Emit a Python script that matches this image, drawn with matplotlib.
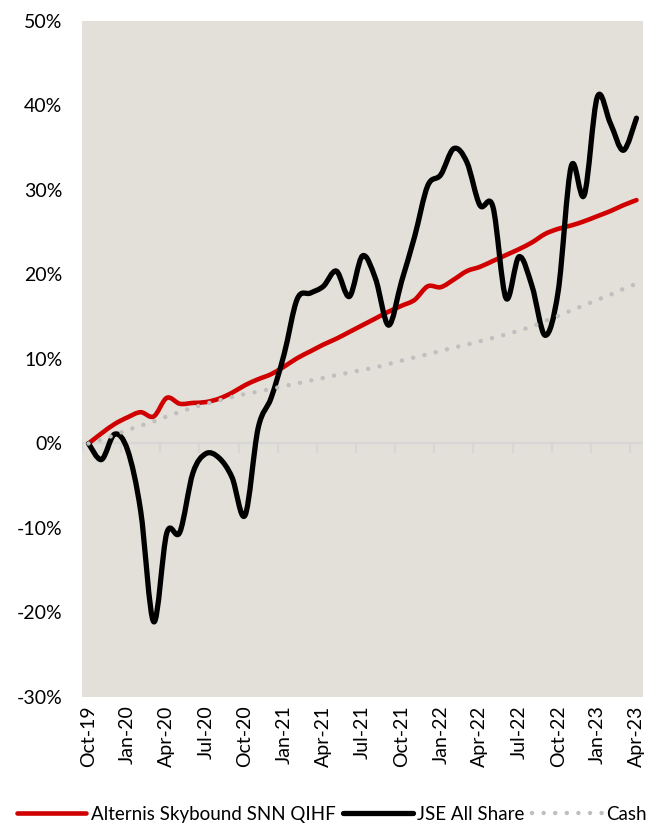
import matplotlib
matplotlib.use("Agg")
import matplotlib.pyplot as plt
from matplotlib.path import Path
from matplotlib.patches import PathPatch
from matplotlib.lines import Line2D
from matplotlib.ticker import FuncFormatter

plt.rcParams['font.family'] = ['Lato', 'DejaVu Sans']

# monthly values, Oct-19 .. Apr-23 (cumulative return, %)
months = ["Oct-19", "Nov-19", "Dec-19", "Jan-20", "Feb-20", "Mar-20", "Apr-20", "May-20", "Jun-20",
          "Jul-20", "Aug-20", "Sep-20", "Oct-20", "Nov-20", "Dec-20", "Jan-21", "Feb-21", "Mar-21",
          "Apr-21", "May-21", "Jun-21", "Jul-21", "Aug-21", "Sep-21", "Oct-21", "Nov-21", "Dec-21",
          "Jan-22", "Feb-22", "Mar-22", "Apr-22", "May-22", "Jun-22", "Jul-22", "Aug-22", "Sep-22",
          "Oct-22", "Nov-22", "Dec-22", "Jan-23", "Feb-23", "Mar-23", "Apr-23"]

alternis = [0.0, 1.2, 2.3, 3.1, 3.7, 3.2, 5.4, 4.7, 4.8, 4.9, 5.3, 6.0, 6.9, 7.6, 8.2,
            9.1, 10.1, 10.9, 11.7, 12.4, 13.2, 14.0, 14.8, 15.6, 16.3, 17.0, 18.6, 18.5,
            19.4, 20.4, 20.9, 21.6, 22.3, 23.0, 23.8, 24.8, 25.4, 25.8, 26.3, 26.9, 27.5,
            28.2, 28.8]

jse = [0.0, -1.9, 1.1, -0.8, -8.0, -21.1, -10.6, -10.5, -3.5, -1.2, -1.7, -4.0, -8.5, 1.8,
       5.4, 10.6, 17.1, 17.8, 18.6, 20.4, 17.4, 22.2, 19.5, 14.0, 19.2, 24.5, 30.5, 31.8,
       34.9, 33.3, 28.2, 28.0, 17.2, 22.1, 18.6, 12.8, 18.0, 32.8, 29.4, 41.0, 37.9, 34.7,
       38.5]

cash = [0.0, 0.45, 1.0, 1.6, 2.1, 2.6, 3.2, 3.75, 4.25, 4.7, 5.1, 5.5, 5.85, 6.15, 6.45,
        6.8, 7.1, 7.45, 7.75, 8.1, 8.4, 8.7, 9.0, 9.4, 9.8, 10.2, 10.55, 10.95, 11.35,
        11.7, 12.1, 12.5, 12.9, 13.35, 13.85, 14.5, 15.1, 15.75, 16.35, 17.0, 17.6, 18.3,
        18.9]

RED = '#D00000'
GREY = '#BFBFBF'
BG = '#E2E0D8'


def smooth_path(xs, ys):
    # Excel-like smoothed line: cubic bezier through every point
    n = len(xs)
    verts = [(xs[0], ys[0])]
    codes = [Path.MOVETO]
    for i in range(n - 1):
        i0 = max(i - 1, 0)
        i3 = min(i + 2, n - 1)
        c1 = (xs[i] + (xs[i + 1] - xs[i0]) / 6, ys[i] + (ys[i + 1] - ys[i0]) / 6)
        c2 = (xs[i + 1] - (xs[i3] - xs[i]) / 6, ys[i + 1] - (ys[i3] - ys[i]) / 6)
        verts += [c1, c2, (xs[i + 1], ys[i + 1])]
        codes += [Path.CURVE4] * 3
    return Path(verts, codes)


x = list(range(len(months)))

fig = plt.figure(figsize=(6.6, 8.26), dpi=100)
ax = fig.add_axes([0.1242, 0.1562, 0.85, 0.8184])
ax.set_facecolor(BG)
for s in ax.spines.values():
    s.set_visible(False)

ax.set_xlim(-0.5, len(months) - 0.5)
ax.set_ylim(-30, 50)

# zero line with category tick marks
ax.axhline(0, color='#D6D6D6', lw=1.6, zorder=1)
tick_marks = [t - 0.5 for t in range(0, len(months) + 1, 3)]
ax.plot(tick_marks, [0] * len(tick_marks), linestyle='none', marker=3, markersize=7,
        markeredgewidth=1.6, color='#D6D6D6', zorder=1)

ax.add_patch(PathPatch(smooth_path(x, alternis), fill=False, edgecolor=RED, lw=3.3,
                       capstyle='round', joinstyle='round', zorder=2))
ax.add_patch(PathPatch(smooth_path(x, jse), fill=False, edgecolor='black', lw=3.8,
                       capstyle='round', joinstyle='round', zorder=3))
ax.plot(x, cash, color=GREY, lw=3.2, linestyle=(0, (0.01, 2.6)), dash_capstyle='round',
        zorder=4)

ax.set_yticks(range(-30, 51, 10))
ax.yaxis.set_major_formatter(FuncFormatter(lambda v, p: f"{v:.0f}%"))
ax.tick_params(axis='y', length=0, pad=14, labelsize=14)

ax.set_xticks(x[::3])
ax.set_xticklabels(months[::3], rotation=90)
ax.tick_params(axis='x', length=0, pad=6, labelsize=14)

handles = [
    Line2D([], [], color=RED, lw=3.3, solid_capstyle='round'),
    Line2D([], [], color='black', lw=3.8, solid_capstyle='round'),
    Line2D([], [], color=GREY, lw=3.2, linestyle=(0, (0.01, 2.6)), dash_capstyle='round'),
]
fig.legend(handles, ["Alternis Skybound SNN QIHF", "JSE All Share", "Cash"],
           loc='center', bbox_to_anchor=(0.503, 0.014), ncol=3, frameon=False,
           fontsize=13.5, handlelength=3.7, handletextpad=0.25, columnspacing=0.4,
           borderaxespad=0, borderpad=0)

fig.savefig("out.png", dpi=100)
